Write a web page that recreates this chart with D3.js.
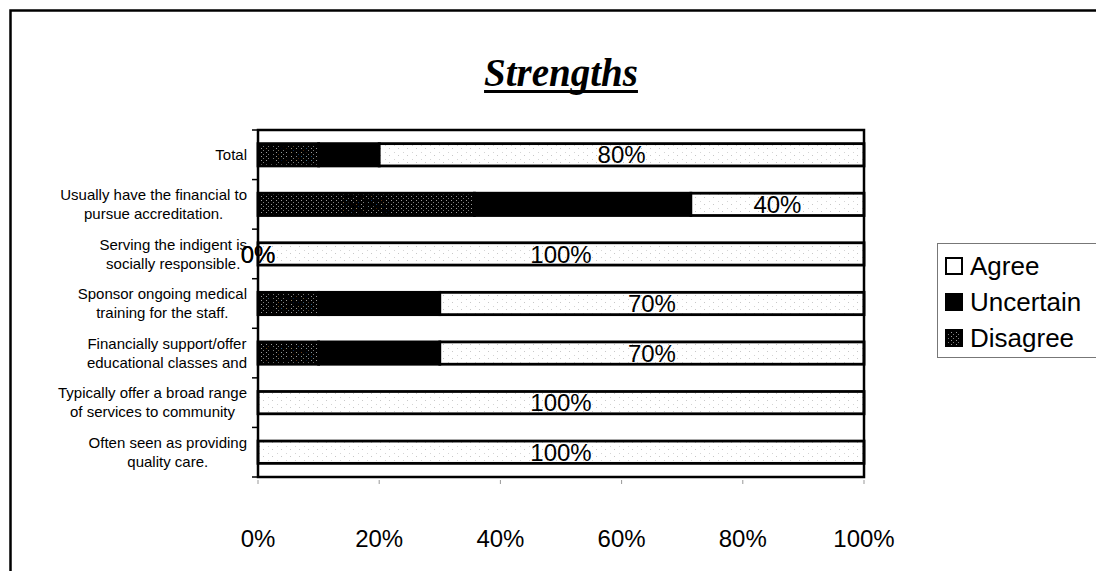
<!DOCTYPE html>
<html>
<head>
<meta charset="utf-8">
<script src="https://cdn.jsdelivr.net/npm/d3@7"></script>
<style>
  html, body { margin: 0; padding: 0; background: #fff; }
  svg { display: block; }
  text { font-family: "Liberation Sans", Arial, sans-serif; fill: #000; }
</style>
</head>
<body>
<svg id="chart" width="1096" height="571"></svg>
<script>
// Survey responses per statement (percent of respondents)
const categories = [
  ["Total"],
  ["Usually have the financial to", "pursue accreditation."],
  ["Serving the indigent is", "socially responsible."],
  ["Sponsor ongoing medical", "training for the staff."],
  ["Financially support/offer", "educational classes and"],
  ["Typically offer a broad range", "of services to community"],
  ["Often seen as providing", "quality care."]
];
const disagree  = [10, 50, 0, 10, 10, null, null];
const uncertain = [10, 50, 0, 20, 20, null, null];
const agree     = [80, 40, 100, 70, 70, 100, 100];

const seriesNames = ["Disagree", "Uncertain", "Agree"];
const legendOrder = ["Agree", "Uncertain", "Disagree"];
const xTickValues = [0, 0.2, 0.4, 0.6, 0.8, 1];
const xTickLabels = ["0%", "20%", "40%", "60%", "80%", "100%"];
const titleText = "Strengths";

const svg = d3.select("#chart");

// fills: dark speckled pattern for Disagree, solid black for Uncertain, white for Agree
const defs = svg.append("defs");
const pat = defs.append("pattern")
  .attr("id", "speckle").attr("patternUnits", "userSpaceOnUse")
  .attr("width", 5).attr("height", 4);
pat.append("rect").attr("width", 5).attr("height", 4).attr("fill", "#000");
pat.append("rect").attr("x", 1).attr("y", 0).attr("width", 1).attr("height", 1).attr("fill", "#9a9a9a");
pat.append("rect").attr("x", 3).attr("y", 2).attr("width", 1).attr("height", 1).attr("fill", "#7a7a7a");

const lightPat = defs.append("pattern")
  .attr("id", "lightdots").attr("patternUnits", "userSpaceOnUse")
  .attr("width", 9).attr("height", 7);
lightPat.append("rect").attr("width", 9).attr("height", 7).attr("fill", "#fff");
lightPat.append("rect").attr("x", 2).attr("y", 1).attr("width", 1).attr("height", 1).attr("fill", "#c8c8c8");
lightPat.append("rect").attr("x", 7).attr("y", 5).attr("width", 1).attr("height", 1).attr("fill", "#d4d4d4");

const fills = { Disagree: "url(#speckle)", Uncertain: "#000", Agree: "url(#lightdots)" };
const legendFills = { Disagree: "url(#speckle)", Uncertain: "#000", Agree: "#fff" };

// outer chart frame (left and top edges fall inside the page)
svg.append("path")
  .attr("d", "M10.5,600 V10.5 H1100")
  .attr("fill", "none").attr("stroke", "#000").attr("stroke-width", 2.5);

// title
const title = svg.append("text")
  .attr("x", 561).attr("y", 86)
  .attr("text-anchor", "middle")
  .style("font-family", '"Liberation Serif", "Times New Roman", serif')
  .style("font-weight", "bold").style("font-style", "italic")
  .style("font-size", "39px")
  .text(titleText);
const tw = title.node().getComputedTextLength();
svg.append("rect")
  .attr("x", 561 - tw / 2).attr("y", 90).attr("width", tw).attr("height", 3).attr("fill", "#000");

// plot geometry
const plot = { left: 258, right: 864, top: 130, bottom: 477 };
const keys = categories.map((c, i) => i);
const x = d3.scaleLinear().domain([0, 1]).range([plot.left, plot.right]);
const y = d3.scaleBand().domain(keys).range([plot.top, plot.bottom])
  .paddingInner(0.55).paddingOuter(0.275);

const rows = keys.map(i => ({
  Disagree: disagree[i] ?? 0,
  Uncertain: uncertain[i] ?? 0,
  Agree: agree[i] ?? 0,
  raw: { Disagree: disagree[i], Uncertain: uncertain[i], Agree: agree[i] },
  idx: i
}));
const stacked = d3.stack().keys(seriesNames).offset(d3.stackOffsetExpand)(rows);

// bars
const g = svg.append("g");
stacked.forEach(layer => {
  g.selectAll(null).data(layer).enter()
    .filter(d => d[1] - d[0] > 0)
    .append("rect")
    .attr("x", d => x(d[0]))
    .attr("y", d => y(d.data.idx))
    .attr("width", d => x(d[1]) - x(d[0]))
    .attr("height", y.bandwidth())
    .attr("fill", fills[layer.key])
    .attr("stroke", "#000").attr("stroke-width", 2.8);
});

// plot frame
svg.append("rect")
  .attr("x", plot.left).attr("y", plot.top)
  .attr("width", plot.right - plot.left).attr("height", plot.bottom - plot.top)
  .attr("fill", "none").attr("stroke", "#000").attr("stroke-width", 2.5);

// category axis ticks at band boundaries
const step = y.step();
d3.range(categories.length + 1).forEach(k => {
  const yy = plot.top + k * step;
  svg.append("line")
    .attr("x1", plot.left - 6).attr("x2", plot.left)
    .attr("y1", yy).attr("y2", yy)
    .attr("stroke", "#000").attr("stroke-width", 1.5);
});

// category labels: block right-aligned, lines centred within the block
categories.forEach((lines, i) => {
  const cy = y(i) + y.bandwidth() / 2;
  const lh = 19;
  const grp = svg.append("g");
  const texts = lines.map((ln, j) => grp.append("text")
    .attr("y", cy + (j - (lines.length - 1) / 2) * lh)
    .attr("dy", "0.35em")
    .attr("text-anchor", "middle")
    .style("font-size", "15px")
    .text(ln));
  const maxW = d3.max(texts, t => t.node().getComputedTextLength());
  texts.forEach(t => t.attr("x", 247 - maxW / 2));
});

// value labels centred in each segment
stacked.forEach(layer => {
  layer.forEach(d => {
    const v = d.data.raw[layer.key];
    if (v == null) return;
    svg.append("text")
      .attr("x", x((d[0] + d[1]) / 2))
      .attr("y", y(d.data.idx) + y.bandwidth() / 2)
      .attr("dy", "0.36em")
      .attr("text-anchor", "middle")
      .style("font-size", "24px")
      .text(v + "%");
  });
});

// value axis
const xAxis = svg.append("g");
xTickValues.forEach((t, i) => {
  xAxis.append("line")
    .attr("x1", x(t)).attr("x2", x(t))
    .attr("y1", plot.bottom + 3).attr("y2", plot.bottom + 7)
    .attr("stroke", "#999").attr("stroke-width", 1);
  xAxis.append("text")
    .attr("x", x(t)).attr("y", 547)
    .attr("text-anchor", "middle")
    .style("font-size", "24px")
    .text(xTickLabels[i]);
});

// legend
const lg = svg.append("g");
lg.append("rect")
  .attr("x", 937.5).attr("y", 243.5).attr("width", 200).attr("height", 114)
  .attr("fill", "#fff").attr("stroke", "#777").attr("stroke-width", 1);
legendOrder.forEach((name, i) => {
  const cy = 266 + i * 36;
  lg.append("rect")
    .attr("x", 946).attr("y", cy - 8).attr("width", 16).attr("height", 16)
    .attr("fill", legendFills[name]).attr("stroke", "#000").attr("stroke-width", 2);
  lg.append("text")
    .attr("x", 970).attr("y", cy).attr("dy", "0.36em")
    .style("font-size", "26px")
    .text(name);
});
</script>
</body>
</html>
